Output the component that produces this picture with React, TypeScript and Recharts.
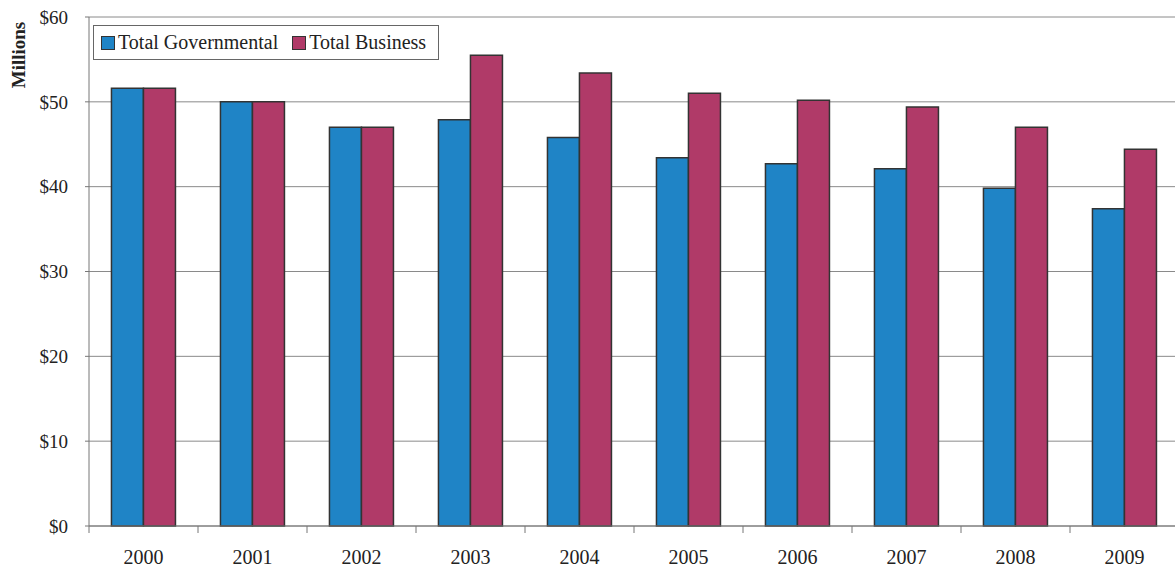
import React from "react";
import { BarChart, Bar, XAxis, YAxis, CartesianGrid } from "recharts";

const YEARS = ["2000", "2001", "2002", "2003", "2004", "2005", "2006", "2007", "2008", "2009"];
const GOVERNMENTAL = [51.6, 50.0, 47.0, 47.9, 45.8, 43.4, 42.7, 42.1, 39.8, 37.4];
const BUSINESS = [51.6, 50.0, 47.0, 55.5, 53.4, 51.0, 50.2, 49.4, 47.0, 44.4];
const Y_TICKS = [0, 10, 20, 30, 40, 50, 60];

const SERIES = [
  { key: "gov", name: "Total Governmental", color: "#1f84c6" },
  { key: "bus", name: "Total Business", color: "#b03a68" },
];

const data = YEARS.map((year, i) => ({ year, gov: GOVERNMENTAL[i], bus: BUSINESS[i] }));

const FONT = '"Liberation Serif", "Times New Roman", serif';
const CHART_W = 1185;
const CHART_H = 569;
const MARGIN = { top: 17, right: 6, bottom: 13, left: 4 };
const Y_AXIS_W = 85;
const BAND = (CHART_W - MARGIN.left - MARGIN.right - Y_AXIS_W) / YEARS.length;

// labels sit in the middle of each band, tick marks at the band edges
const YearTick = (props: any) => {
  const { x, y, payload } = props;
  return (
    <g>
      <line x1={x - BAND / 2} x2={x - BAND / 2} y1={y - 8} y2={y - 1} stroke="#777" strokeWidth={1} />
      <text x={x} y={y + 30} textAnchor="middle" fill="#222" fontFamily={FONT} fontSize={20}>
        {payload.value}
      </text>
    </g>
  );
};

const LegendBox = () => (
  <div
    style={{
      position: "absolute",
      left: 93,
      top: 25,
      display: "inline-flex",
      alignItems: "center",
      boxSizing: "border-box",
      border: "1px solid #666",
      background: "#fff",
      height: 35,
      padding: "0 12px 0 7px",
      fontFamily: FONT,
      fontSize: 20,
      color: "#222",
      whiteSpace: "nowrap",
    }}
  >
    {SERIES.map((s, i) => (
      <span key={s.key} style={{ display: "inline-flex", alignItems: "center", marginLeft: i ? 14 : 0 }}>
        <span
          style={{
            display: "inline-block",
            width: 12,
            height: 12,
            background: s.color,
            border: "1.5px solid #333",
            marginRight: 3,
          }}
        />
        {s.name}
      </span>
    ))}
  </div>
);

export default function App() {
  return (
    <div
      style={{
        position: "fixed",
        left: 0,
        top: 0,
        width: 1175,
        height: 569,
        overflow: "hidden",
        background: "#fff",
      }}
    >
      <BarChart
        width={CHART_W}
        height={CHART_H}
        data={data}
        margin={MARGIN}
        barCategoryGap="20.6%"
        barGap={0}
      >
        <CartesianGrid vertical={false} stroke="#8a8a8a" strokeWidth={1} />
        <XAxis
          dataKey="year"
          stroke="#777"
          tickLine={false}
          tick={<YearTick />}
          height={43 - MARGIN.bottom}
          interval={0}
        />
        <YAxis
          domain={[0, 60]}
          ticks={Y_TICKS}
          width={Y_AXIS_W}
          stroke="#777"
          tickSize={4}
          tickMargin={17}
          tickFormatter={(v: number) => `$${v}`}
          tick={{ fill: "#222", fontFamily: FONT, fontSize: 19 }}
        />
        {SERIES.map((s) => (
          <Bar
            key={s.key}
            dataKey={s.key}
            name={s.name}
            fill={s.color}
            stroke="#333"
            strokeWidth={1.5}
            isAnimationActive={false}
          />
        ))}
      </BarChart>
      <LegendBox />
      <div
        style={{
          position: "absolute",
          left: 19,
          top: 55,
          transform: "translate(-50%, -50%) rotate(-90deg)",
          fontFamily: FONT,
          fontWeight: "bold",
          fontSize: 19,
          color: "#222",
          whiteSpace: "nowrap",
        }}
      >
        Millions
      </div>
    </div>
  );
}
